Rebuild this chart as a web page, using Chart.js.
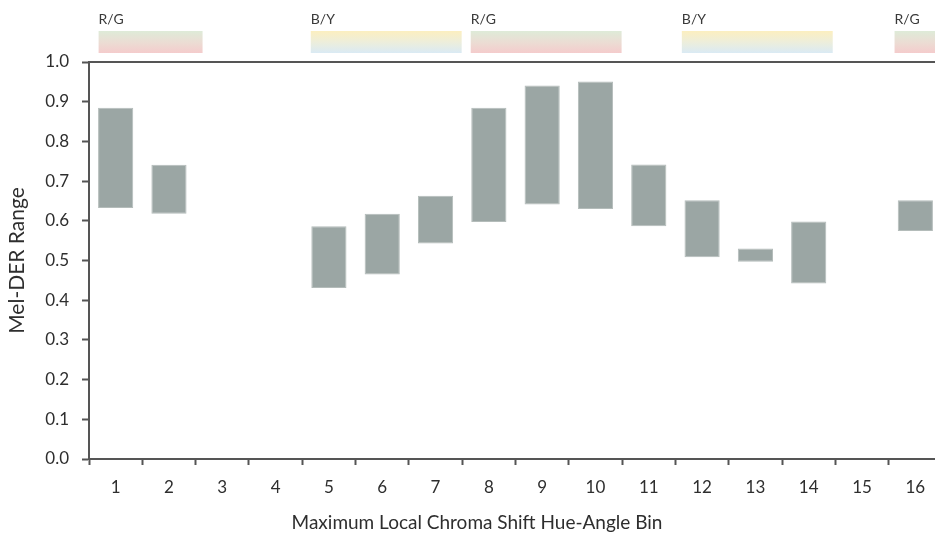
<!DOCTYPE html>
<html>
<head>
<meta charset="utf-8">
<script src="https://cdn.jsdelivr.net/npm/chart.js@4/dist/chart.umd.min.js"></script>
<style>
html,body{margin:0;padding:0;background:#fff;overflow:hidden;width:935px;height:536px;}
canvas{display:block;}
</style>
</head>
<body>
<canvas id="c" width="942" height="536"></canvas>
<script>
// Categories (hue-angle bins)
const bins = ['1','2','3','4','5','6','7','8','9','10','11','12','13','14','15','16'];
// Mel-DER range: lower and upper ends (null = no data)
const lows  = [0.632, 0.618, null, null, 0.431, 0.465, 0.543, 0.597, 0.641, 0.630, 0.586, 0.508, 0.497, 0.442, null, 0.574];
const highs = [0.885, 0.741, null, null, 0.586, 0.618, 0.663, 0.885, 0.941, 0.951, 0.742, 0.652, 0.530, 0.598, null, 0.652];
// y-axis ticks
const yTicks = [0.0,0.1,0.2,0.3,0.4,0.5,0.6,0.7,0.8,0.9,1.0];
// opponent-colour bands above the plot, in bin units
const bandLabels = ['R/G','B/Y','R/G','B/Y','R/G'];
const bandStart  = [0.68, 4.66, 7.66, 11.62, 15.61];
const bandEnd    = [2.63, 7.49, 10.49, 14.45, 17.5];
const xTitle = 'Maximum Local Chroma Shift Hue-Angle Bin';
const yTitle = 'Mel-DER Range';

const ranges = lows.map((lo,i) => (lo === null || highs[i] === null) ? null : [lo, highs[i]]);

const FONT = 'Lato, "Open Sans", sans-serif';
const AXIS = '#555555';
const TEXT = '#2e2e2e';

const bandPlugin = {
  id: 'bands',
  afterDraw(chart) {
    const ctx = chart.ctx, x = chart.scales.x, area = chart.chartArea;
    ctx.save();
    // top frame line
    ctx.strokeStyle = AXIS; ctx.lineWidth = 2;
    ctx.beginPath(); ctx.moveTo(area.left, area.top); ctx.lineTo(area.right, area.top); ctx.stroke();
    const top = 31, h = 22;
    bandLabels.forEach((lab, i) => {
      const x0 = x.getPixelForValue(bandStart[i] - 1);
      const x1 = x.getPixelForValue(bandEnd[i] - 1);
      const g = ctx.createLinearGradient(0, top, 0, top + h);
      if (lab === 'R/G') {
        g.addColorStop(0, '#deebd8'); g.addColorStop(0.5, '#ebddd4'); g.addColorStop(1, '#f4cccc');
      } else {
        g.addColorStop(0, '#fcefc0'); g.addColorStop(0.5, '#edeedb'); g.addColorStop(1, '#daeaf4');
      }
      ctx.fillStyle = g;
      ctx.fillRect(x0, top, x1 - x0, h);
      ctx.fillStyle = '#3a3a3a';
      ctx.font = '14px ' + FONT;
      ctx.textAlign = 'left'; ctx.textBaseline = 'middle';
      ctx.fillText(lab, x0, 19);
    });
    // x-axis title (centred where the original places it)
    ctx.fillStyle = TEXT;
    ctx.font = '19px ' + FONT;
    ctx.textAlign = 'center'; ctx.textBaseline = 'middle';
    ctx.fillText(xTitle, 477, 523);
    ctx.restore();
  }
};

new Chart(document.getElementById('c'), {
  type: 'bar',
  data: {
    labels: bins,
    datasets: [{
      data: ranges,
      backgroundColor: '#9ba6a4',
      borderColor: '#b4bcba',
      borderWidth: 1,
      borderSkipped: false,
      barPercentage: 0.66,
      categoryPercentage: 1.0
    }]
  },
  options: {
    responsive: false,
    animation: false,
    layout: { padding: { left: 0, right: 0, top: 62, bottom: 0 } },
    plugins: { legend: { display: false }, tooltip: { enabled: false } },
    scales: {
      x: {
        offset: true,
        grid: { display: true, offset: true, drawOnChartArea: false, drawTicks: true, tickLength: 6, tickColor: AXIS, tickWidth: 2 },
        border: { display: true, color: AXIS, width: 2 },
        ticks: { color: TEXT, font: { family: FONT, size: 17 }, padding: 12, maxRotation: 0, autoSkip: false },
        title: { display: false },
        afterFit(s) { s.height = 77; }
      },
      y: {
        min: 0, max: 1,
        afterBuildTicks(s) { s.ticks = yTicks.map(v => ({ value: v })); },
        grid: { display: true, drawOnChartArea: false, drawTicks: true, tickLength: 7, tickColor: AXIS, tickWidth: 2 },
        border: { display: true, color: AXIS, width: 2 },
        ticks: { color: TEXT, font: { family: FONT, size: 17 }, padding: 13, callback: v => Number(v).toFixed(1) },
        title: { display: true, text: yTitle, color: TEXT, font: { family: FONT, size: 21 }, padding: { top: 5, bottom: 0 } },
        afterFit(s) { s.width = 89; }
      }
    }
  },
  plugins: [bandPlugin]
});
</script>
</body>
</html>
